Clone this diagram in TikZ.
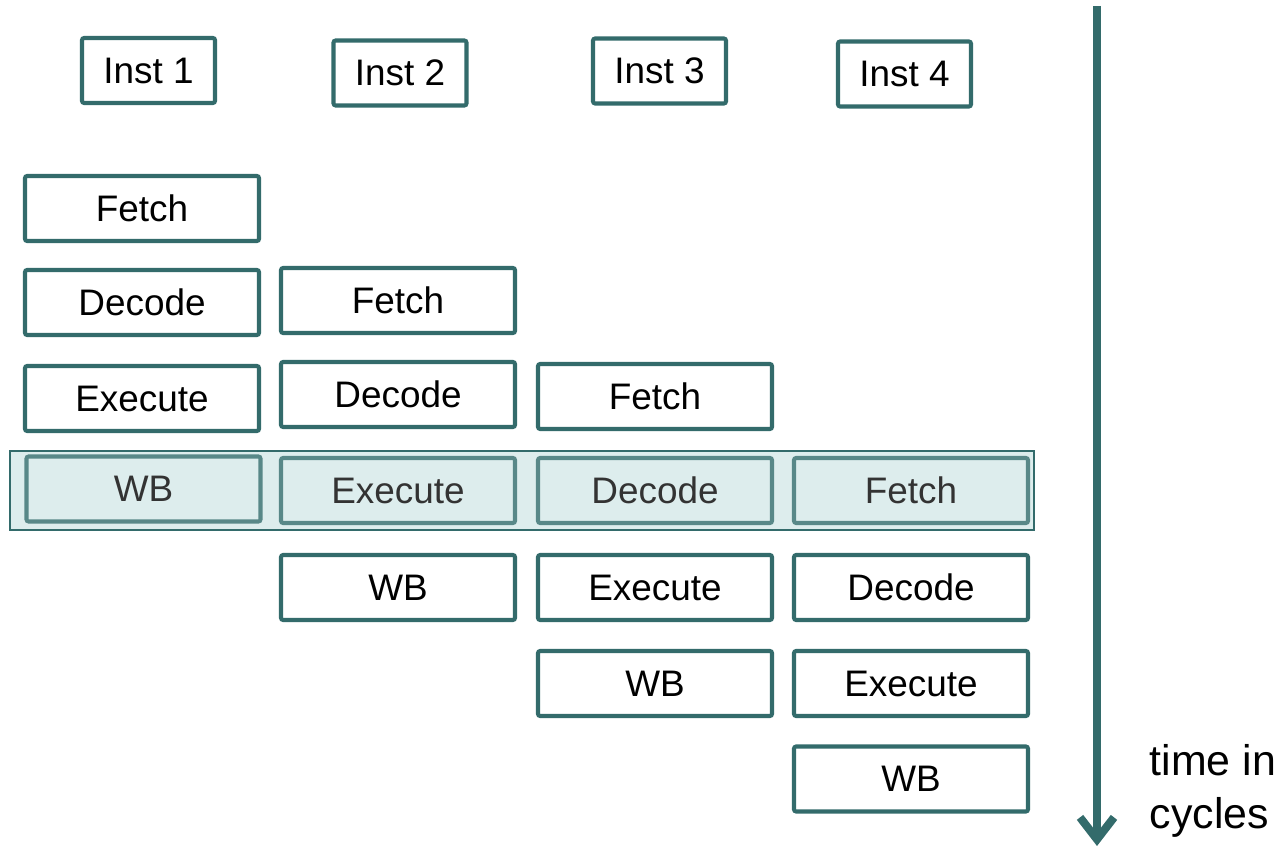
\documentclass[tikz,border=0pt]{standalone}
\usepackage{fontspec}
\setmainfont{Liberation Sans}
\usetikzlibrary{positioning,calc,arrows.meta}
\definecolor{teal}{HTML}{336B6B}
\definecolor{tealsoft}{HTML}{588888}
\definecolor{band}{HTML}{DDEDED}

\begin{document}
\begin{tikzpicture}[font=\fontsize{10.5}{12}\selectfont,
   st/.style={draw=teal, line width=1.15pt, rounded corners=0.6pt, minimum width=2.34cm, minimum height=0.65cm, inner sep=0pt, fill=white},
   inst/.style={st, minimum width=1.33cm},
   now/.style={st, draw=tealsoft, fill=band, text=black!80}]
  \useasboundingbox (0,0) rectangle (12.85,-8.52);
  % instruction headers
  \node[inst] (i1) at (1.485,-0.705) {Inst 1};
  \node[inst] (i2) at (4.0,-0.73) {Inst 2};
  \node[inst] (i3) at (6.595,-0.71) {Inst 3};
  \node[inst] (i4) at (9.045,-0.74) {Inst 4};
  % current cycle band
  \draw[teal, line width=0.5pt, fill=band] (0.1,-4.51) rectangle (10.34,-5.3);
  % Inst 1
  \node[st] (f1) at (1.42,-2.085) {Fetch};
  \node[st] (d1) at (1.42,-3.025) {Decode};
  \node[st] (e1) at (1.42,-3.985) {Execute};
  \node[now] (w1) at (1.435,-4.89) {WB};
  % Inst 2
  \node[st] (f2) at (3.98,-3.005) {Fetch};
  \node[st] (d2) at (3.98,-3.945) {Decode};
  \node[now] (e2) at (3.98,-4.905) {Execute};
  \node[st] (w2) at (3.98,-5.875) {WB};
  % Inst 3
  \node[st] (f3) at (6.55,-3.965) {Fetch};
  \node[now] (d3) at (6.55,-4.905) {Decode};
  \node[st] (e3) at (6.55,-5.875) {Execute};
  \node[st] (w3) at (6.55,-6.835) {WB};
  % Inst 4
  \node[now] (f4) at (9.11,-4.905) {Fetch};
  \node[st] (d4) at (9.11,-5.875) {Decode};
  \node[st] (e4) at (9.11,-6.835) {Execute};
  \node[st] (w4) at (9.11,-7.79) {WB};
  % time axis
  \coordinate (t0) at (10.97,-0.06);
  \coordinate (t1) at (10.97,-8.46);
  \draw[teal, line width=2.3pt, -{Straight Barb[length=0.22cm, width=0.34cm, line width=2.3pt]}] (t0) -- (t1);
  \node[font=\fontsize{12.2}{15}\selectfont, align=left, anchor=north west, inner sep=0pt] (lbl) at (11.49,-7.44) {time in\\cycles};
\end{tikzpicture}
\end{document}
